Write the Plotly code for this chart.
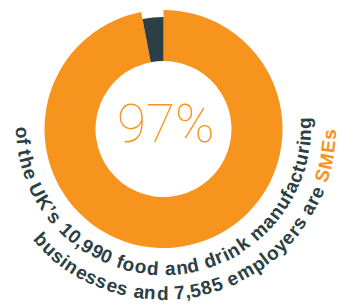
import math
import plotly.graph_objects as go

W, H = 364, 306

# ---- data ----
share_labels = ["SMEs", "Large businesses"]
share_values = [97, 3]
center_label = "97%"
line1_text = "of the UK’s 10,990 food and drink manufacturing"
line2_text = "businesses and 7,585 employers are "
line2_highlight = "SMEs"

ORANGE = "#F7941D"
SLATE = "#2C3F44"

cx, cy = 163.5, 129.0
R_out_orange = 119
R_out_slate = 112
R_in = 68


def dom(R):
    return dict(x=[(cx - R) / W, (cx + R) / W],
                y=[1 - (cy + R) / H, 1 - (cy - R) / H])


fig = go.Figure()
fig.add_trace(go.Pie(values=share_values, labels=share_labels,
                     marker=dict(colors=[ORANGE, "rgba(0,0,0,0)"]),
                     hole=R_in / R_out_orange, domain=dom(R_out_orange),
                     sort=False, direction="clockwise", rotation=0,
                     textinfo="none", hoverinfo="skip", showlegend=False))
fig.add_trace(go.Pie(values=share_values, labels=share_labels,
                     marker=dict(colors=["rgba(0,0,0,0)", SLATE]),
                     hole=R_in / R_out_slate, domain=dom(R_out_slate),
                     sort=False, direction="clockwise", rotation=0,
                     textinfo="none", hoverinfo="skip", showlegend=False))

# advance widths (Arial/Liberation Sans Bold, per 1000 em)
WID = {' ': 278, ',': 278, '’': 278, "'": 238, 'a': 556, 'b': 611, 'c': 556,
       'd': 611, 'e': 556, 'f': 333, 'g': 611, 'h': 611, 'i': 278, 'k': 556,
       'l': 278, 'm': 889, 'n': 611, 'o': 611, 'p': 611, 'r': 389, 's': 556,
       't': 333, 'u': 611, 'y': 556, 'U': 722, 'K': 722, 'S': 667, 'M': 833,
       'E': 667}


def adv(ch):
    return WID.get(ch, 556) / 1000.0


def place(chars, R, phi_start, phi_end, size, tcx, tcy):
    total = sum(adv(c) for c, _ in chars)
    span = math.radians(phi_start - phi_end)
    scale = span / total
    pos = 0.0
    for ch, col in chars:
        a = adv(ch)
        mid = pos + a / 2
        pos += a
        if ch == " ":
            continue
        phi = math.radians(phi_start) - mid * scale
        x = tcx + R * math.cos(phi)
        y = tcy + R * math.sin(phi)
        fig.add_annotation(x=x / W, y=1 - y / H, xref="paper", yref="paper",
                           text=ch, textangle=math.degrees(phi) - 90,
                           showarrow=False, xanchor="center", yanchor="middle",
                           font=dict(family="Liberation Sans, Arial, sans-serif",
                                     size=size, color=col, weight=700))


line1 = [(c, SLATE) for c in line1_text]
line2 = [(c, SLATE) for c in line2_text] + [(c, ORANGE) for c in line2_highlight]
place(line1, 141, 180.5, -4.5, 19, cx, 127.5)
place(line2, 166, 139.5, 0.5, 19, cx, 127.5)

fig.add_annotation(x=166 / W, y=1 - 124 / H, xref="paper", yref="paper",
                   text=center_label, showarrow=False,
                   xanchor="center", yanchor="middle",
                   font=dict(family="Roboto, Lato, sans-serif", size=53,
                             color=ORANGE, weight=100))

fig.update_layout(width=W, height=H, margin=dict(l=0, r=0, t=0, b=0),
                  paper_bgcolor="white", plot_bgcolor="white",
                  showlegend=False)
fig.write_html("out.html", config={"displayModeBar": False},
               post_script="document.body.style.margin='0';")
